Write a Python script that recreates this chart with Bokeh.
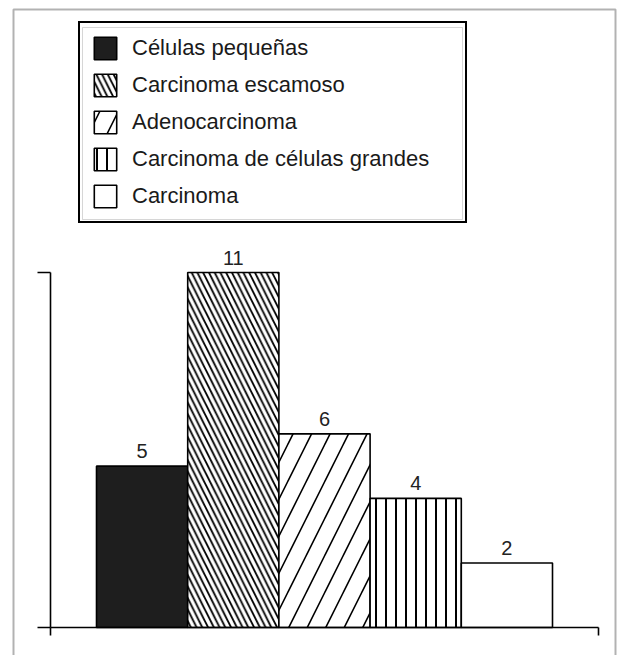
from bokeh.plotting import figure
from bokeh.models import Range1d, LinearAxis, FixedTicker, BoxAnnotation
from bokeh.core.properties import value
from bokeh.embed import file_html
from bokeh.resources import INLINE

# ---- data ----
categories = ["Células pequeñas", "Carcinoma escamoso", "Adenocarcinoma",
              "Carcinoma de células grandes", "Carcinoma"]
values = [5, 11, 6, 4, 2]
positions = [1, 2, 3, 4, 5]
value_labels = ["5", "11", "6", "4", "2"]

# ---- styles ----
fills = ["#1e1e1e", "white", "white", "white", "white"]
hatches = [None, "left_diagonal_line", "right_diagonal_line", "vertical_line", None]
hatch_scales = [12, 11.5, 37, 10, 12]
hatch_weights = [1, 1.8, 1.6, 2.0, 1]

W, H = 618, 655
OFF = 0  # page offset of the canvas
PX_PER_X = 91.2
PX_PER_Y = 355 / 11.0
X0 = 0.5 - (96 - OFF) / PX_PER_X
Y1 = (627 - OFF) / PX_PER_Y      # data value at canvas top
Y0 = Y1 - H / PX_PER_Y

def px_x(px):
    return X0 + (px - OFF) / PX_PER_X

def px_y(py):
    return Y1 - (py - OFF) / PX_PER_Y

p = figure(width=W, height=H, output_backend="svg", toolbar_location=None,
           x_axis_type=None, y_axis_type=None, min_border=0,
           x_range=Range1d(X0, X0 + W / PX_PER_X),
           y_range=Range1d(Y0, Y1))
p.outline_line_color = None
p.background_fill_color = "white"
p.border_fill_color = "white"

for i, cat in enumerate(categories):
    p.vbar(x=[positions[i]], top=[values[i]], bottom=0, width=1.0,
           fill_color=fills[i], line_color="black", line_width=1.6,
           hatch_pattern=hatches[i], hatch_color="black",
           hatch_scale=hatch_scales[i], hatch_weight=hatch_weights[i],
           legend_label=cat)

p.text(x=positions, y=values, text=value_labels, text_align="center",
       text_baseline="alphabetic", y_offset=-15, text_color="#222222",
       text_font=value("Liberation Sans"), text_font_size="20px")

yaxis = LinearAxis(fixed_location=0, ticker=FixedTicker(ticks=[0, 11]),
                   bounds=(0, 11), major_tick_out=13, major_tick_in=0,
                   minor_tick_out=0, minor_tick_in=0,
                   axis_line_width=1.6, major_tick_line_width=1.6,
                   major_label_text_color=None)
xaxis = LinearAxis(fixed_location=0, ticker=FixedTicker(ticks=[0, 6]),
                   bounds=(0, 6), major_tick_out=8, major_tick_in=0,
                   minor_tick_out=0, minor_tick_in=0,
                   axis_line_width=1.6, major_tick_line_width=1.6,
                   major_label_text_color=None)
p.add_layout(yaxis, "left")
p.add_layout(xaxis, "below")

leg = p.legend[0]
leg.location = (78 - OFF, H - (223 - OFF))
leg.margin = 0
leg.padding = 11
leg.spacing = 9
leg.glyph_width = 28
leg.glyph_height = 28
leg.label_standoff = 13
leg.label_width = 322
leg.label_text_font = "Liberation Sans"
leg.label_text_font_size = "22px"
leg.label_text_color = "#1a1a1a"
leg.border_line_color = "black"
leg.border_line_alpha = 1.0
leg.border_line_width = 2
leg.background_fill_alpha = 0

# inner line of the legend's double frame
p.add_layout(BoxAnnotation(left=px_x(82), right=px_x(462), top=px_y(27), bottom=px_y(219),
                           fill_color=None, line_color="#777777", line_width=1))
# outer frame of the figure
p.add_layout(BoxAnnotation(left=px_x(13), right=px_x(615), top=px_y(9), bottom=px_y(700),
                           fill_color=None, line_color="black", line_width=2))

open("out.html", "w").write(file_html(p, INLINE))
